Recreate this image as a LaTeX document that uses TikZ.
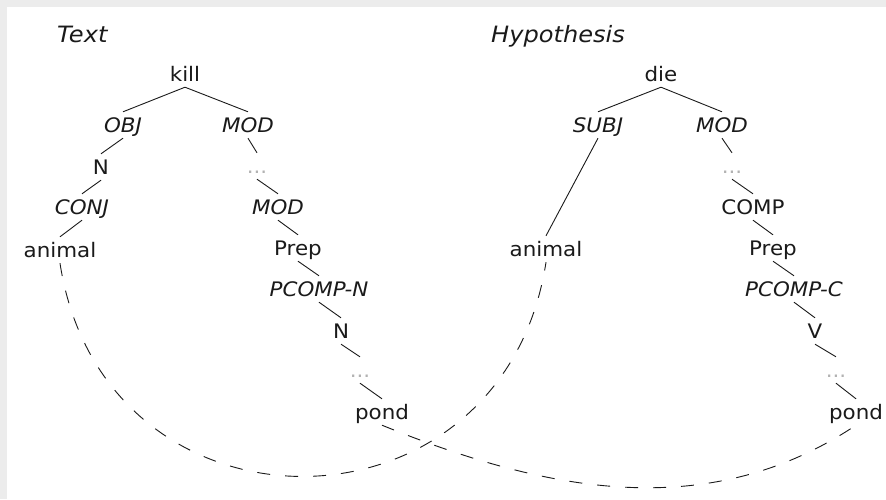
\documentclass[tikz,border=0pt]{standalone}
\usepackage{fontspec}
\setmainfont[FakeStretch=1.07]{DejaVu Sans}
\definecolor{ink}{HTML}{1A1A1A}
\definecolor{frame}{HTML}{ECECEC}
\begin{document}
\begin{tikzpicture}[x=1pt,y=-1pt,
  lbl/.style={inner xsep=2pt, inner ysep=5.7pt, text height=14.6pt, text depth=0pt,
              font=\fontsize{20}{24}\selectfont, text=ink},
  rel/.style={lbl, font=\fontsize{20}{24}\selectfont\itshape},
  gap/.style={lbl, text=gray!60},
  title/.style={font=\fontsize{22.5}{27}\selectfont\itshape, text=ink,
                anchor=base west, inner sep=0pt},
  edge/.style={draw=ink, line width=0.9pt},
  link/.style={draw=ink, line width=0.9pt, dash pattern=on 13pt off 15pt}]

% canvas with the thin grey frame along the top and left edges
\useasboundingbox (0,0) rectangle (886,499);
\fill[white] (0,0) rectangle (886,499);
\fill[frame] (0,0) rectangle (886,7);
\fill[frame] (0,0) rectangle (7,499);

% headings
\node[title] (ttext) at (57,42) {Text};
\node[title] (thyp) at (491,42) {Hypothesis};

% dependency tree of the text
\node[lbl] (kill)   at (185,74)  {kill};
\node[rel] (obj)    at (123,125) {OBJ};
\node[rel] (modA)   at (248,125) {MOD};
\node[lbl] (nA)     at (101,167) {N};
\node[gap] (dotsA)  at (257,166) {...};
\node[rel] (conj)   at (82,207)  {CONJ};
\node[rel] (modB)   at (278,207) {MOD};
\node[lbl] (animT)  at (60,250)  {animal};
\node[lbl] (prepA)  at (298,248) {Prep};
\node[rel] (pcompN) at (319,289) {PCOMP-N};
\node[lbl] (nB)     at (341,331) {N};
\node[gap] (dotsB)  at (360,370) {...};
\node[lbl] (pondT)  at (382,412) {pond};

\draw[edge] (kill.south) -- (obj.north);
\draw[edge] (kill.south) -- (modA.north);
\draw[edge] (obj.south) -- (nA.north);
\draw[edge] (nA.south) -- (conj.north);
\draw[edge] (conj.south) -- (animT.north);
\draw[edge] (modA.south) -- (dotsA.north);
\draw[edge] (dotsA.south) -- (modB.north);
\draw[edge] (modB.south) -- (prepA.north);
\draw[edge] (prepA.south) -- (pcompN.north);
\draw[edge] (pcompN.south) -- (nB.north);
\draw[edge] (nB.south) -- (dotsB.north);
\draw[edge] (dotsB.south) -- (pondT.north);

% dependency tree of the hypothesis
\node[lbl] (die)    at (661,74)  {die};
\node[rel] (subj)   at (598,125) {SUBJ};
\node[rel] (modC)   at (722,125) {MOD};
\node[lbl] (animH)  at (546,249) {animal};
\node[gap] (dotsC)  at (732,166) {...};
\node[lbl] (comp)   at (753,207) {COMP};
\node[lbl] (prepB)  at (773,248) {Prep};
\node[rel] (pcompC) at (794,289) {PCOMP-C};
\node[lbl] (vB)     at (815,331) {V};
\node[gap] (dotsD)  at (836,370) {...};
\node[lbl] (pondH)  at (856,412) {pond};

\draw[edge] (die.south) -- (subj.north);
\draw[edge] (die.south) -- (modC.north);
\draw[edge] (subj.south) -- (animH.north);
\draw[edge] (modC.south) -- (dotsC.north);
\draw[edge] (dotsC.south) -- (comp.north);
\draw[edge] (comp.south) -- (prepB.north);
\draw[edge] (prepB.south) -- (pcompC.north);
\draw[edge] (pcompC.south) -- (vB.north);
\draw[edge] (vB.south) -- (dotsD.north);
\draw[edge] (dotsD.south) -- (pondH.north);

% alignment links between matching words
\draw[link] (animT.south) .. controls +(44,285) and +(-44,285) .. (animH.south);
\draw[link] (pondT.south) .. controls +(160,65) and +(-150,100) .. (pondH.south);
\end{tikzpicture}
\end{document}
